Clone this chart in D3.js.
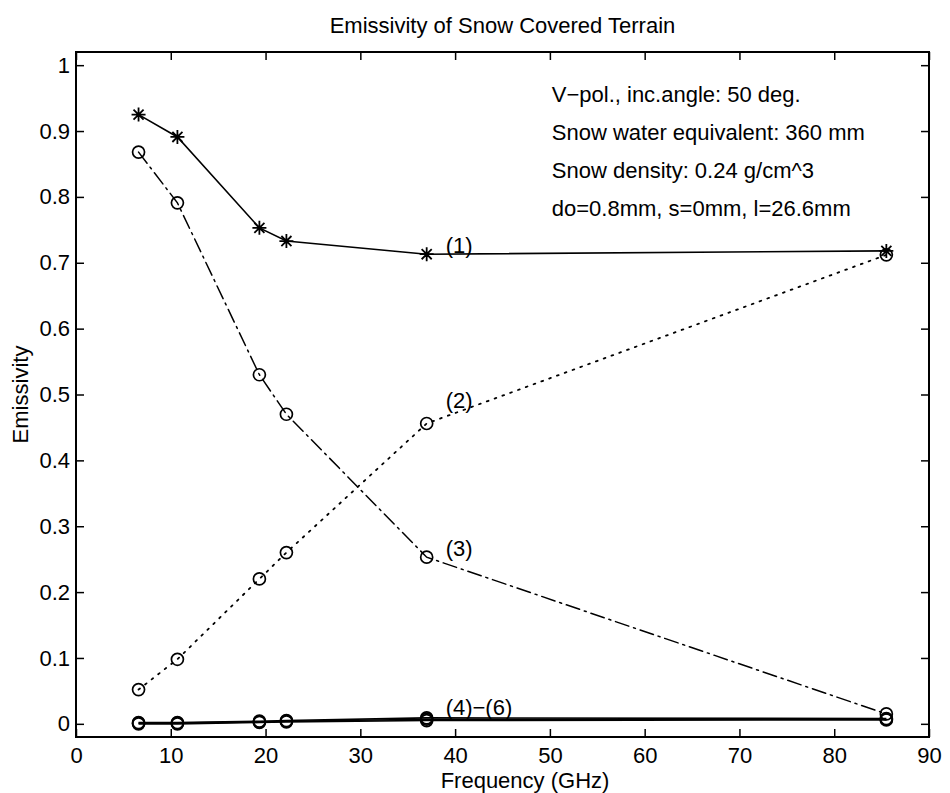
<!DOCTYPE html>
<html>
<head>
<meta charset="utf-8">
<script src="https://cdn.jsdelivr.net/npm/d3@7"></script>
<style>
  body { margin: 0; background: #fff; }
  svg { display: block; font-family: "Liberation Sans", Arial, Helvetica, sans-serif; }
</style>
</head>
<body>
<svg id="chart" width="950" height="793"></svg>
<script>
// frequencies (GHz)
const freqs = [6.6, 10.7, 19.35, 22.2, 37, 85.5];

// emissivity per curve
const curve1 = [0.925, 0.891, 0.753, 0.733, 0.713, 0.718];
const curve2 = [0.052, 0.098, 0.220, 0.260, 0.456, 0.712];
const curve3 = [0.868, 0.791, 0.530, 0.470, 0.253, 0.015];
const curve4 = [0.000, 0.000, 0.002, 0.003, 0.005, 0.006];
const curve5 = [0.001, 0.001, 0.003, 0.004, 0.007, 0.007];
const curve6 = [0.002, 0.002, 0.004, 0.005, 0.009, 0.008];

const xTicks = [0, 10, 20, 30, 40, 50, 60, 70, 80, 90];
const yTicks = [0, 0.1, 0.2, 0.3, 0.4, 0.5, 0.6, 0.7, 0.8, 0.9, 1];

const curveLabels = [
  { text: "(1)", x: 39, y: 0.724 },
  { text: "(2)", x: 39, y: 0.488 },
  { text: "(3)", x: 39, y: 0.263 },
  { text: "(4)\u2212(6)", x: 39, y: 0.022 }
];

const notes = [
  "V\u2212pol., inc.angle: 50 deg.",
  "Snow water equivalent: 360 mm",
  "Snow density: 0.24 g/cm^3",
  "do=0.8mm, s=0mm, l=26.6mm"
];

const svg = d3.select("#chart");
const plotLeft = 76, plotRight = 929, plotTop = 52, plotBottom = 737;
const fontSize = 22;

const x = d3.scaleLinear().domain([0, 90]).range([plotLeft, plotRight]);
const y = d3.scaleLinear().domain([-0.02, 1.02]).range([plotBottom, plotTop]);

const fmt = d => d === 0 ? "0" : d === 1 ? "1" : d3.format(".1f")(d);

// axes: ticks inside, on all four sides
const tickLen = 8;
svg.append("g")
  .attr("transform", `translate(0,${plotBottom})`)
  .call(d3.axisBottom(x).tickValues(xTicks).tickSizeInner(-tickLen).tickSizeOuter(0).tickPadding(10))
  .call(g => g.select(".domain").remove());
svg.append("g")
  .attr("transform", `translate(0,${plotTop})`)
  .call(d3.axisTop(x).tickValues(xTicks).tickSizeInner(-tickLen).tickSizeOuter(0).tickFormat(""))
  .call(g => g.select(".domain").remove());
svg.append("g")
  .attr("transform", `translate(${plotLeft},0)`)
  .call(d3.axisLeft(y).tickValues(yTicks).tickSizeInner(-tickLen).tickSizeOuter(0).tickPadding(6).tickFormat(fmt))
  .call(g => g.select(".domain").remove());
svg.append("g")
  .attr("transform", `translate(${plotRight},0)`)
  .call(d3.axisRight(y).tickValues(yTicks).tickSizeInner(-tickLen).tickSizeOuter(0).tickFormat(""))
  .call(g => g.select(".domain").remove());

svg.selectAll(".tick line").attr("stroke", "#000").attr("stroke-width", 1.5);
svg.selectAll(".tick text").attr("font-size", fontSize).attr("fill", "#000").attr("font-family", null);

svg.append("rect")
  .attr("x", plotLeft).attr("y", plotTop)
  .attr("width", plotRight - plotLeft).attr("height", plotBottom - plotTop)
  .attr("fill", "none").attr("stroke", "#000").attr("stroke-width", 2);

// curves
const line = d3.line().x(d => x(d[0])).y(d => y(d[1]));
const series = [
  { vals: curve1, dash: null, width: 1.6, marker: "star" },
  { vals: curve2, dash: "1.8,6.5", width: 1.8, marker: "circle" },
  { vals: curve3, dash: "14,5,2,5", width: 1.5, marker: "circle" },
  { vals: curve4, dash: null, width: 1.6, marker: "circle" },
  { vals: curve5, dash: null, width: 1.6, marker: "circle" },
  { vals: curve6, dash: null, width: 1.6, marker: "circle" }
];

const starPath = (r) => {
  const a = r * 0.72;
  return `M${-r},0L${r},0M0,${-r}L0,${r}M${-a},${-a}L${a},${a}M${-a},${a}L${a},${-a}`;
};

series.forEach(s => {
  const pts = freqs.map((f, i) => [f, s.vals[i]]);
  svg.append("path")
    .datum(pts)
    .attr("fill", "none")
    .attr("stroke", "#000")
    .attr("stroke-width", s.width)
    .attr("stroke-linecap", s.dash ? "round" : "butt")
    .attr("stroke-dasharray", s.dash)
    .attr("d", line);
  const m = svg.append("g").selectAll("g").data(pts).join("g")
    .attr("transform", d => `translate(${x(d[0])},${y(d[1])})`);
  if (s.marker === "star") {
    m.append("path").attr("d", starPath(7)).attr("stroke", "#000").attr("stroke-width", 1.8).attr("fill", "none");
  } else {
    m.append("circle").attr("r", 6).attr("fill", "none").attr("stroke", "#000").attr("stroke-width", 1.7);
  }
});

// curve labels
svg.append("g").selectAll("text").data(curveLabels).join("text")
  .attr("x", d => x(d.x))
  .attr("y", d => y(d.y))
  .attr("dominant-baseline", "middle")
  .attr("font-size", fontSize)
  .text(d => d.text);

// parameter notes
svg.append("g").selectAll("text").data(notes).join("text")
  .attr("x", x(50.2))
  .attr("y", (d, i) => 102 + i * 38)
  .attr("font-size", fontSize)
  .text(d => d);

// title and axis labels
svg.append("text")
  .attr("x", (plotLeft + plotRight) / 2).attr("y", 33)
  .attr("text-anchor", "middle").attr("font-size", fontSize)
  .text("Emissivity of Snow Covered Terrain");
svg.append("text")
  .attr("x", 525).attr("y", 788)
  .attr("text-anchor", "middle").attr("font-size", fontSize)
  .text("Frequency (GHz)");
svg.append("text")
  .attr("transform", `translate(28,${(plotTop + plotBottom) / 2}) rotate(-90)`)
  .attr("text-anchor", "middle").attr("font-size", fontSize)
  .text("Emissivity");
</script>
</body>
</html>
